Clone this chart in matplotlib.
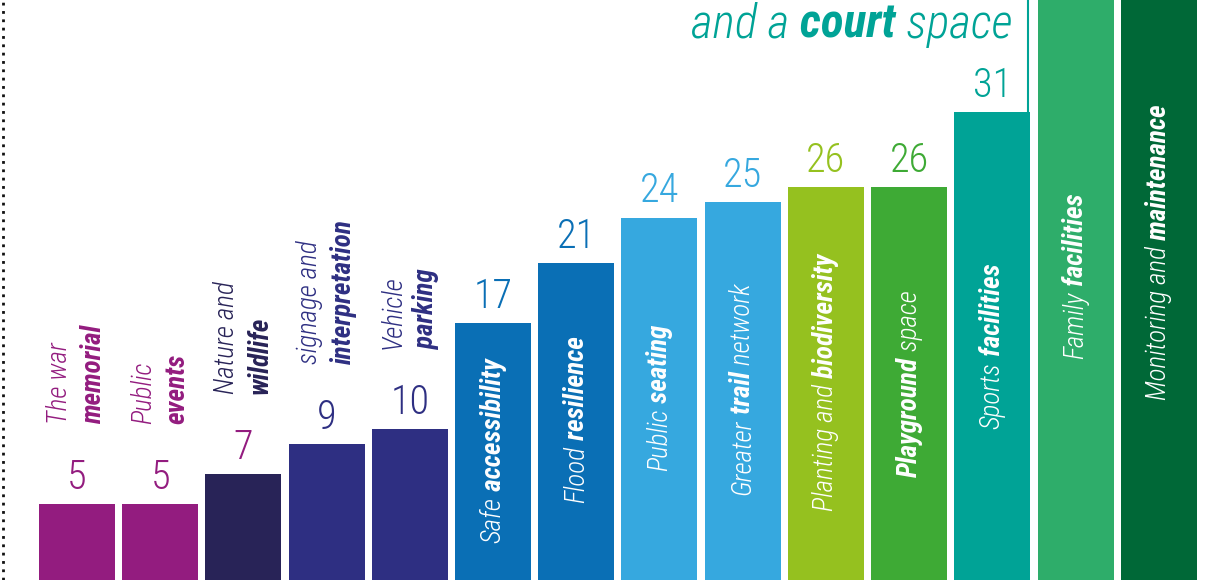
import numpy as np
import matplotlib.pyplot as plt
from matplotlib import font_manager

# data
labels_top = [("The war", "memorial"), ("Public", "events"), ("Nature and", "wildlife"),
              ("signage and", "interpretation"), ("Vehicle", "parking")]
labels_in = [[("Safe", 0), (" accessibility", 1)],
             [("Flood", 0), (" resilience", 1)],
             [("Public", 0), (" seating", 1)],
             [("Greater", 0), (" trail", 1), (" network", 0)],
             [("Planting and", 0), (" biodiversity", 1)],
             [("Playground", 1), (" space", 0)],
             [("Sports", 0), (" facilities", 1)],
             [("Family", 0), (" facilities", 1)],
             [("Monitoring and", 0), (" maintenance", 1)]]
values = [5, 5, 7, 9, 10, 17, 21, 24, 25, 26, 26, 31]
# last two bars run off the top of the crop, value not visible
values_off = [44, 46]
bar_colors = ['#931C7F', '#931C7F', '#282357', '#2E2F82', '#2E2F82', '#0A6FB5', '#0A6FB5',
              '#36A8DF', '#36A8DF', '#95C11F', '#3EAA35', '#00A396', '#2EAD6A', '#006837']
num_colors = ['#931C7F', '#931C7F', '#931C7F', '#2E2F82', '#2E2F82', '#0A6FB5', '#0A6FB5',
              '#36A8DF', '#36A8DF', '#95C11F', '#3EAA35', '#00A396']
top_colors = ['#931C7F', '#931C7F', '#282357', '#2E2F82', '#2E2F82']
title_parts = [("and a", 0), (" court", 1), (" space", 0)]
teal = '#00A396'

# layout: where the rotated labels inside the bars start (data units)
in_start = [2.45, 5.1, 7.2, 5.6, 4.6, 6.8, 10.0, 14.6, 11.9]

names = {f.name for f in font_manager.fontManager.ttflist}
fam = 'Roboto Condensed' if 'Roboto Condensed' in names else 'Roboto'
plt.rcParams['font.family'] = [fam, 'DejaVu Sans']

fig = plt.figure(figsize=(12.27, 5.8), dpi=100)
ax = fig.add_axes([0, 0, 1, 1])
ax.set_xlim(-0.925, 13.82)
ax.set_ylim(0, 38.4)
ax.axis('off')

allv = values + values_off
x = np.arange(len(allv))
w = 0.913
ax.bar(x, allv, width=w, color=bar_colors, linewidth=0)

renderer = fig.canvas.get_renderer()


def run(xp, yp, parts, color, size, rotation=90):
    off = 0
    texts = []
    for s, b in parts:
        ox, oy = (0, off) if rotation == 90 else (off, 0)
        t = ax.annotate(s, (xp, yp), xytext=(ox, oy), textcoords='offset pixels',
                        rotation=rotation, rotation_mode='anchor', ha='left',
                        va='center' if rotation == 90 else 'baseline',
                        color=color, fontsize=size, style='italic',
                        weight='bold' if b else 'light')
        bb = t.get_window_extent(renderer)
        off += bb.height if rotation == 90 else bb.width
        texts.append(t)
    return texts, off


# numbers
for i, v in enumerate(values):
    ax.annotate(str(v), (i, v), xytext=(0, 15), textcoords='offset pixels',
                ha='center', va='baseline', fontsize=29, weight='light',
                color=num_colors[i])

# two-line labels above the small bars
for i, (l1, l2) in enumerate(labels_top):
    yb = values[i] + 5.3
    ax.annotate(l1, (i, yb), xytext=(-17, 0), textcoords='offset pixels', rotation=90,
                rotation_mode='anchor', ha='left', va='center', fontsize=19.5,
                style='italic', weight='light', color=top_colors[i])
    ax.annotate(l2, (i, yb), xytext=(17, 0), textcoords='offset pixels', rotation=90,
                rotation_mode='anchor', ha='left', va='center', fontsize=19.5,
                style='italic', weight='bold', color=top_colors[i])

# labels inside the bars
for k, parts in enumerate(labels_in):
    run(5 + k, in_start[k], parts, 'white', 19.5)

# heading fragment, right aligned
texts, tot = run(11.24, 35.9, title_parts, teal, 34, rotation=0)
for t in texts:
    ox, oy = t.xyann
    t.xyann = (ox - tot, oy)

# connector line up the right edge of the sports bar
xl = 11 + w / 2 - 0.025
ax.plot([xl, xl], [values[11], 38.4], color=teal, lw=1.5, solid_capstyle='butt')

# dotted border at left
ax.plot([0.0025, 0.0025], [0, 1], transform=ax.transAxes, color='#111111',
        lw=2, ls=(0, (1, 2)), dash_capstyle='butt')

fig.savefig('out.png', dpi=100)
